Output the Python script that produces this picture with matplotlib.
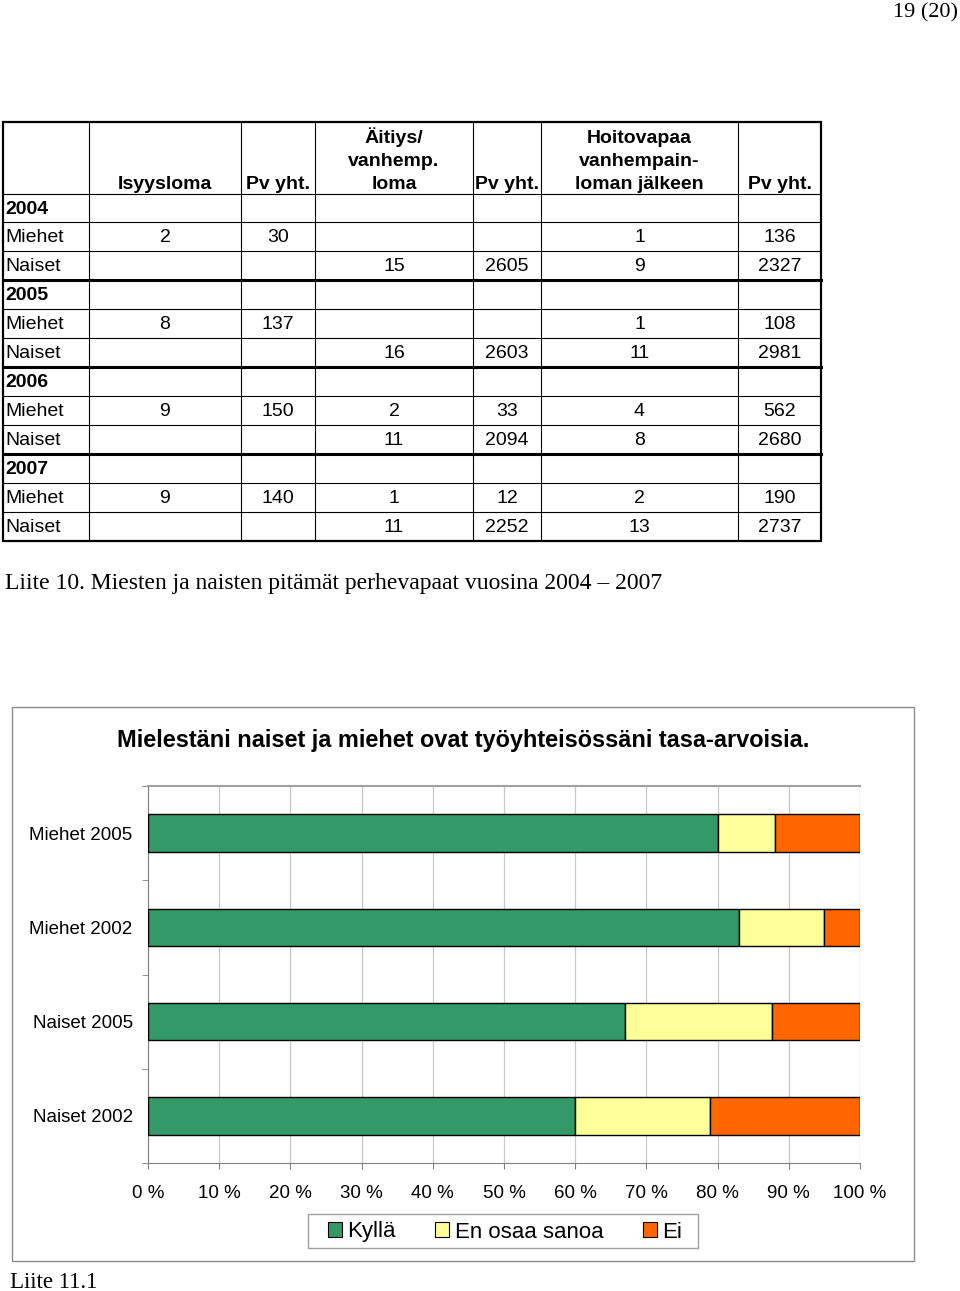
import matplotlib.pyplot as plt
from matplotlib.patches import Rectangle, Patch

# table data
header = ["", "Isyysloma", "Pv yht.", "Äitiys/\nvanhemp.\nloma", "Pv yht.",
          "Hoitovapaa\nvanhempain-\nloman jälkeen", "Pv yht."]
years = ["2004", "2005", "2006", "2007"]
miehet = [["2", "30", "", "", "1", "136"],
          ["8", "137", "", "", "1", "108"],
          ["9", "150", "2", "33", "4", "562"],
          ["9", "140", "1", "12", "2", "190"]]
naiset = [["", "", "15", "2605", "9", "2327"],
          ["", "", "16", "2603", "11", "2981"],
          ["", "", "11", "2094", "8", "2680"],
          ["", "", "11", "2252", "13", "2737"]]

# chart data
groups = ["Miehet 2005", "Miehet 2002", "Naiset 2005", "Naiset 2002"]
kylla = [80, 83, 67, 60]
en_osaa = [8, 12, 20.6, 19]
ei = [12, 5, 12.4, 21]

SANS = "Liberation Sans"
SERIF = "Liberation Serif"

fig = plt.figure(figsize=(9.6, 12.91), dpi=100)

# page in pixel coordinates
page = fig.add_axes([0, 0, 1, 1])
page.set_xlim(0, 960)
page.set_ylim(1291, 0)
page.axis("off")

page.text(958, 13, "19 (20)", ha="right", va="center", family=SERIF, fontsize=16)

# table grid
col_x = [3, 89, 241, 315, 473, 541, 738, 821]
row_y = [122, 194, 222, 251, 280, 309, 338, 367, 396, 425, 454, 483, 512, 541]
for x in col_x[1:-1]:
    page.plot([x, x], [row_y[0], row_y[-1]], color="black", lw=0.8)
for i, y in enumerate(row_y[1:-1], start=1):
    lw = 2.2 if i in (4, 7, 10) else 0.8
    page.plot([col_x[0], col_x[-1]], [y, y], color="black", lw=lw)
page.add_patch(Rectangle((col_x[0], row_y[0]), col_x[-1] - col_x[0], row_y[-1] - row_y[0],
                         fill=False, edgecolor="black", lw=1.6))

for i in range(1, 7):
    cx = (col_x[i] + col_x[i + 1]) / 2
    page.text(cx, 193, header[i], ha="center", va="bottom", multialignment="center",
              family=SANS, fontsize=14, fontweight="bold", linespacing=1.45)

rows = []
for k in range(4):
    rows.append((years[k], [""] * 6, True))
    rows.append(("Miehet", miehet[k], False))
    rows.append(("Naiset", naiset[k], False))

for r, (label, vals, bold) in enumerate(rows):
    cy = (row_y[r + 1] + row_y[r + 2]) / 2 + 1
    page.text(5, cy, label, ha="left", va="center", family=SANS, fontsize=14,
              fontweight="bold" if bold else "normal")
    for j, v in enumerate(vals):
        cx = (col_x[j + 1] + col_x[j + 2]) / 2
        page.text(cx, cy, v, ha="center", va="center", family=SANS, fontsize=14)

page.text(5, 583, "Liite 10. Miesten ja naisten pitämät perhevapaat vuosina 2004 \u2013 2007",
          ha="left", va="center", family=SERIF, fontsize=17)

# chart frame and title
page.add_patch(Rectangle((12, 707), 902, 554, fill=False, edgecolor="#8c8c8c", lw=1))
page.text(463, 740, "Mielestäni naiset ja miehet ovat työyhteisössäni tasa-arvoisia.",
          ha="center", va="center", family=SANS, fontsize=16.9, fontweight="bold")
page.text(10, 1283, "Liite 11.1", ha="left", va="center", family=SERIF, fontsize=16.5)

# legend frame
page.add_patch(Rectangle((308, 1214), 390, 34, fill=False, edgecolor="#a0a0a0", lw=1))

# bar chart
ax = fig.add_axes([148 / 960, 1 - 1163 / 1291, 712 / 960, (1163 - 786) / 1291])
pos = list(range(len(groups)))
left2 = [a for a in kylla]
left3 = [a + b for a, b in zip(kylla, en_osaa)]
ax.barh(pos, kylla, height=0.4, color="#339966", edgecolor="black", lw=1, zorder=3)
ax.barh(pos, en_osaa, left=left2, height=0.4, color="#FFFF99", edgecolor="black", lw=1, zorder=3)
ax.barh(pos, ei, left=left3, height=0.4, color="#FF6600", edgecolor="black", lw=1, zorder=3)

ax.set_xlim(0, 100)
ax.set_ylim(3.5, -0.5)
ax.set_xticks(range(0, 101, 10))
ax.set_xticklabels([f"{v} %" for v in range(0, 101, 10)], family=SANS, fontsize=13.5)
ax.set_yticks(pos)
ax.set_yticklabels(groups, family=SANS, fontsize=13.5)
ax.set_yticks([-0.5, 0.5, 1.5, 2.5, 3.5], minor=True)
ax.tick_params(axis="y", which="major", length=0, pad=11)
ax.tick_params(axis="y", which="minor", length=4, color="#808080")
ax.tick_params(axis="x", length=4, color="#808080", pad=12)
ax.xaxis.grid(True, color="#c8c8c8", lw=0.9)
ax.set_axisbelow(True)
for s in ("left", "bottom"):
    ax.spines[s].set_color("#808080")
ax.spines["top"].set_color("#a0a0a0")
ax.spines["top"].set_linewidth(1.5)
ax.spines["right"].set_visible(False)

handles = [Patch(facecolor="#339966", edgecolor="black", lw=0.8),
           Patch(facecolor="#FFFF99", edgecolor="black", lw=0.8),
           Patch(facecolor="#FF6600", edgecolor="black", lw=0.8)]
leg = fig.legend(handles, ["Kyllä", "En osaa sanoa", "Ei"], ncol=3, loc="center",
                 bbox_to_anchor=(505 / 960, 1 - 1232 / 1291), frameon=False,
                 prop={"family": SANS, "size": 16}, handlelength=0.65, handleheight=0.65,
                 handletextpad=0.25, columnspacing=1.75, borderpad=0, borderaxespad=0)

fig.savefig("out.png", dpi=100)
